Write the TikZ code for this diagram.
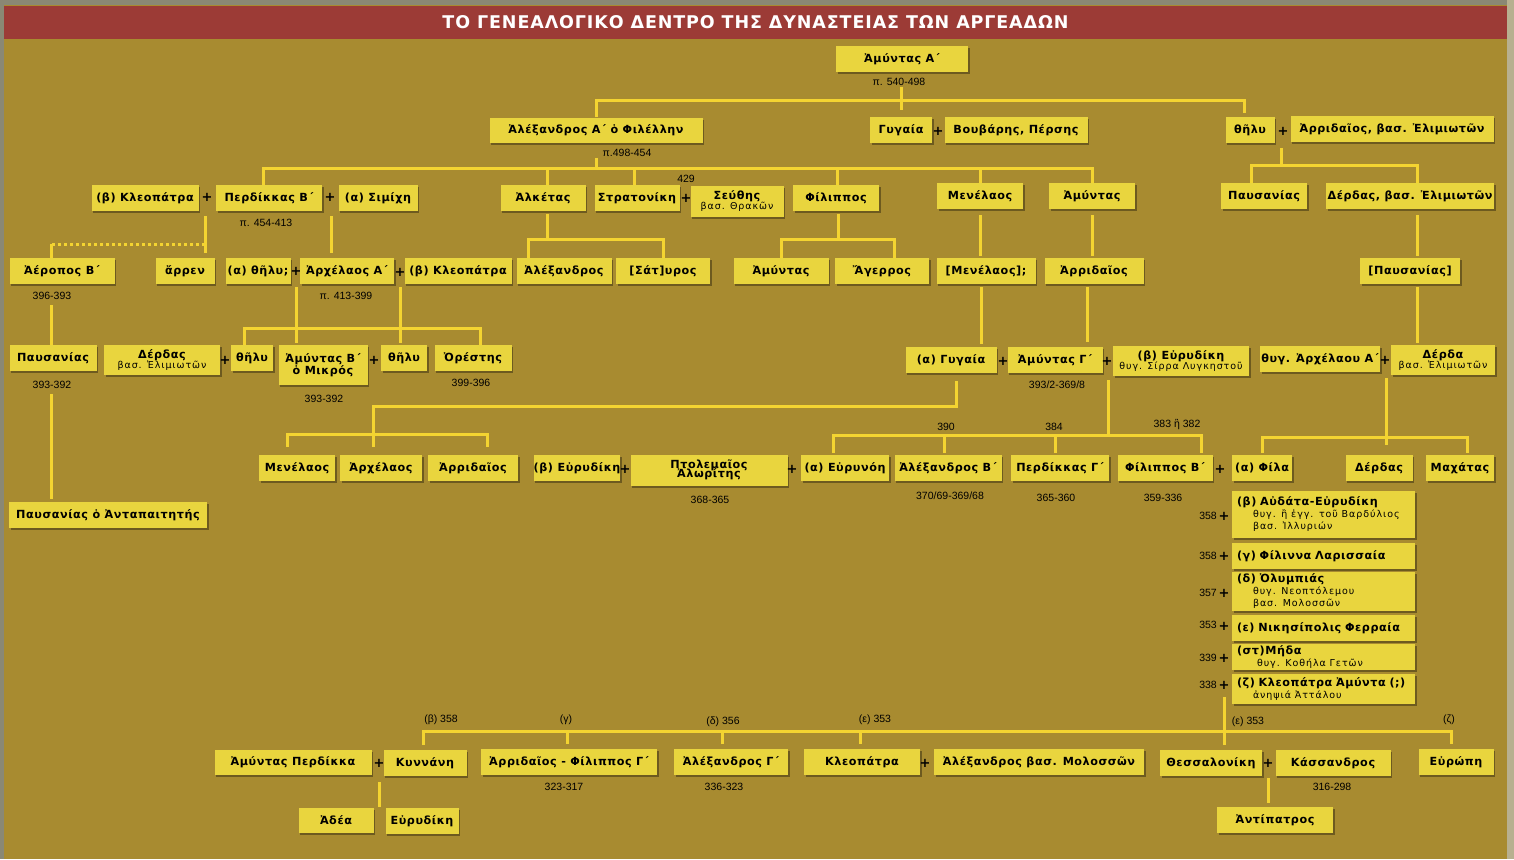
\documentclass[tikz,border=0pt]{standalone}
\usepackage{fontspec}
\setmainfont{DejaVu Sans}
\newfontfamily\bxfont[LetterSpace=5]{DejaVu Sans}
\newfontfamily\subfontfam[LetterSpace=10]{DejaVu Sans}
\newfontfamily\datefont{Liberation Sans}
\newcommand\subf{\subfontfam\mdseries\fontsize{9.5}{10.5}\selectfont}
\usetikzlibrary{shadows}
\pgfdeclarelayer{bg}
\pgfsetlayers{bg,main}
\definecolor{bgc}{HTML}{A88B30}
\definecolor{boxc}{HTML}{E9D53E}
\definecolor{linec}{HTML}{F4D431}
\definecolor{titc}{HTML}{9C3B36}
\definecolor{framec}{HTML}{8A8874}
\definecolor{rightc}{HTML}{B8B090}
\tikzset{
 bx/.style={fill=boxc, inner sep=0pt, align=center, text=black,
   font=\bxfont\bfseries\fontsize{11.2}{12}\selectfont,
   drop shadow={shadow xshift=1.5pt, shadow yshift=-2pt, opacity=0.35, fill=black}},
 wf/.style={bx, align=left, text width=173pt, inner xsep=5pt, inner ysep=1pt},
 pl/.style={font=\bxfont\bfseries\fontsize{13}{13}\selectfont, inner sep=0pt, text=black},
 dt/.style={font=\datefont\fontsize{10.5}{11}\selectfont, inner sep=1pt, text=black},
 ln/.style={draw=linec, line width=3pt},
 dln/.style={ln, dash pattern=on 3pt off 3pt},
}
\newcommand\nd[5]{\node[bx,minimum width=#3pt,minimum height=#4pt] (#1) at (#2) {#5};}
\begin{document}
\begin{tikzpicture}[x=1pt,y=-1pt]
\begin{pgfonlayer}{bg}
\fill[framec] (0,0) rectangle (1514,859);
\fill[bgc] (4,5) rectangle (1507,859);
\fill[rightc] (1507,0) rectangle (1514,859);
\end{pgfonlayer}
\node[fill=titc, minimum width=1503pt, minimum height=33pt, inner sep=0pt, text=white,
  font=\bxfont\bfseries\fontsize{17.5}{18}\selectfont] (ttl) at (755.5,22.5)
  {ΤΟ ΓΕΝΕΑΛΟΓΙΚΟ ΔΕΝΤΡΟ ΤΗΣ ΔΥΝΑΣΤΕΙΑΣ ΤΩΝ ΑΡΓΕΑΔΩΝ};
% row 0-1
\nd{amyA}{902,59}{132}{26}{Ἀμύντας Α΄}
\node[dt] (d540) at (899,82) {π. 540-498};
\nd{alexA}{596,130}{213}{25}{Ἀλέξανδρος Α΄ ὁ Φιλέλλην}
\node[dt] (d498) at (627,153) {π.498-454};
\nd{gyg1}{901,130}{62}{26}{Γυγαία}
\node[pl] (pGB) at (938,131) {+};
\nd{bouv}{1016,130}{143}{26}{Βουβάρης, Πέρσης}
\nd{thel1}{1250,130}{49}{26}{θῆλυ}
\node[pl] (pTA) at (1283,131) {+};
\nd{arrEl}{1392,129}{203}{26}{Ἀρριδαῖος, βασ. Ἐλιμιωτῶν}
% row 2
\nd{kleoB}{145,198}{107}{26}{(β) Κλεοπάτρα}
\node[pl] (pKP) at (207,197) {+};
\nd{perdB}{269,198}{106}{26}{Περδίκκας Β΄}
\node[dt] (d454) at (266,223) {π. 454-413};
\node[pl] (pPS) at (330,197) {+};
\nd{simi}{378,198}{79}{26}{(α) Σιμίχη}
\nd{alke}{543,198}{85}{26}{Ἀλκέτας}
\nd{stra}{637,198}{85}{26}{Στρατονίκη}
\node[pl] (pSS) at (686,198) {+};
\node[dt] (d429) at (686,179) {429};
\nd{seut}{737,201}{93}{31}{Σεύθης\\[-2pt]{\subf βασ. Θρακῶν}}
\nd{phil2}{836,198}{86}{26}{Φίλιππος}
\nd{men2}{980,196}{86}{26}{Μενέλαος}
\nd{amy2}{1092,196}{86}{26}{Ἀμύντας}
\nd{paus1}{1264,196}{86}{26}{Παυσανίας}
\nd{derd1}{1410,196}{168}{26}{Δέρδας, βασ. Ἐλιμιωτῶν}
% row 3
\nd{aero}{62,271}{105}{26}{Ἀέροπος Β΄}
\node[dt] (d396) at (52,296) {396-393};
\nd{arre}{185,271}{59}{26}{ἄρρεν}
\nd{thel3}{258,271}{65}{26}{(α) θῆλυ;}
\node[pl] (pTAr) at (296,271) {+};
\nd{arch}{347,271}{94}{26}{Ἀρχέλαος Α΄}
\node[dt] (d413) at (346,296) {π. 413-399};
\node[pl] (pAK) at (400,272) {+};
\nd{kleo3}{458,271}{107}{26}{(β) Κλεοπάτρα}
\nd{alex3}{564,271}{95}{26}{Ἀλέξανδρος}
\nd{saty}{663,271}{94}{26}{[Σάτ]υρος}
\nd{amy3}{781,271}{95}{26}{Ἀμύντας}
\nd{ager}{882,271}{94}{26}{Ἄγερρος}
\nd{men3}{986,271}{99}{26}{[Μενέλαος];}
\nd{arr3}{1094,271}{99}{26}{Ἀρριδαῖος}
\nd{paus3}{1410,271}{100}{26}{[Παυσανίας]}
% row 4
\nd{paus4}{53,358}{87}{26}{Παυσανίας}
\node[dt] (d393a) at (52,385) {393-392};
\nd{derd4}{162,360}{116}{30}{Δέρδας\\[-2pt]{\subf βασ. Ἐλιμιωτῶν}}
\node[pl] (pDT) at (225,360) {+};
\nd{thel4a}{252,358}{42}{26}{θῆλυ}
\nd{amyB}{323,365}{89}{40}{Ἀμύντας Β΄\\ὁ Μικρός}
\node[dt] (d393b) at (324,399) {393-392};
\node[pl] (pAT) at (374,360) {+};
\nd{thel4b}{404,358}{46}{26}{θῆλυ}
\nd{ores}{473,358}{77}{26}{Ὀρέστης}
\node[dt] (d399) at (471,383) {399-396};
\nd{gyg4}{951,360}{91}{26}{(α) Γυγαία}
\node[pl] (pGA) at (1003,361) {+};
\nd{amyG}{1055,360}{95}{26}{Ἀμύντας Γ΄}
\node[dt] (d3932) at (1057,385) {393/2-369/8};
\node[pl] (pAE) at (1107,361) {+};
\nd{eurB}{1181,361}{136}{30}{(β) Εὐρυδίκη\\[-2pt]{\subf θυγ. Σίρρα Λυγκηστοῦ}}
\nd{thyg}{1320,359}{120}{26}{θυγ. Ἀρχέλαου Α΄}
\node[pl] (pTD) at (1385,360) {+};
\nd{derda}{1443,360}{104}{30}{Δέρδα\\[-2pt]{\subf βασ. Ἐλιμιωτῶν}}
% row 5
\nd{men5}{297,468}{76}{26}{Μενέλαος}
\nd{arch5}{381,468}{82}{26}{Ἀρχέλαος}
\nd{arr5}{473,468}{90}{26}{Ἀρριδαῖος}
\nd{eur5}{577,468}{86}{26}{(β) Εὐρυδίκη}
\node[pl] (pEP) at (625,469) {+};
\nd{ptol}{709,470}{157}{31}{Πτολεμαῖος\\[-3pt]Ἀλωρίτης}
\node[dt] (d368) at (710,500) {368-365};
\node[pl] (pPE) at (792,469) {+};
\nd{eurn}{845,468}{88}{26}{(α) Εὐρυνόη}
\nd{alexB}{948,468}{107}{26}{Ἀλέξανδρος Β΄}
\node[dt] (d370) at (950,496) {370/69-369/68};
\nd{perdG}{1060,468}{98}{26}{Περδίκκας Γ΄}
\node[dt] (d365) at (1056,498) {365-360};
\nd{philB}{1165,468}{95}{26}{Φίλιππος Β΄}
\node[dt] (d359) at (1163,498) {359-336};
\node[pl] (pPP) at (1220,469) {+};
\nd{phila}{1262,468}{60}{26}{(α) Φίλα}
\nd{derd5}{1379,468}{67}{26}{Δέρδας}
\nd{mach}{1460,468}{68}{26}{Μαχάτας}
\node[dt] (d390) at (946,427) {390};
\node[dt] (d384) at (1054,427) {384};
\node[dt] (d383) at (1177,425) {383 ἢ 382};
% row 6
\nd{pausAnt}{108,515}{198}{26}{Παυσανίας ὁ Ἀνταπαιτητής}
% wives of Philippos B
\node[wf, minimum height=47pt] (aud) at (1323.5,514.5) {(β) Αὐδάτα-Εὐρυδίκη\\{\subf\hspace*{16pt}θυγ. ἢ ἐγγ. τοῦ Βαρδύλιος}\\{\subf\hspace*{16pt}βασ. Ἰλλυριών}};
\node[wf, minimum height=26pt] (phln) at (1323.5,556) {(γ) Φίλιννα Λαρισσαία};
\node[wf, minimum height=39pt] (olym) at (1323.5,591.5) {(δ) Ὀλυμπιάς\\{\subf\hspace*{16pt}θυγ. Νεοπτόλεμου}\\{\subf\hspace*{16pt}βασ. Μολοσσῶν}};
\node[wf, minimum height=26pt] (nike) at (1323.5,628) {(ε) Νικησίπολις Φερραία};
\node[wf, minimum height=26pt] (meda) at (1323.5,657) {(στ)Μήδα\\{\subf\hspace*{20pt}θυγ. Κοθήλα Γετῶν}};
\node[wf, minimum height=30pt] (kleoZ) at (1323.5,689) {(ζ) Κλεοπάτρα Ἀμύντα (;)\\{\subf\hspace*{16pt}ἀνηψιά Ἀττάλου}};
\node[dt, anchor=east] (n1) at (1218,516) {358};
\node[pl] (pW1) at (1224,516) {+};
\node[dt, anchor=east] (n2) at (1218,556) {358};
\node[pl] (pW2) at (1224,556) {+};
\node[dt, anchor=east] (n3) at (1218,593) {357};
\node[pl] (pW3) at (1224,593) {+};
\node[dt, anchor=east] (n4) at (1218,625) {353};
\node[pl] (pW4) at (1224,626) {+};
\node[dt, anchor=east] (n5) at (1218,658) {339};
\node[pl] (pW5) at (1224,658) {+};
\node[dt, anchor=east] (n6) at (1218,685) {338};
\node[pl] (pZ) at (1224,685) {+};
% bottom labels
\node[dt] (lb1) at (441,720) {(β) 358};
\node[dt] (lb2) at (566,720) {(γ)};
\node[dt] (lb3) at (723,722) {(δ) 356};
\node[dt] (lb4) at (875,720) {(ε) 353};
\node[dt] (lb5) at (1248,722) {(ε) 353};
\node[dt] (lb6) at (1449,720) {(ζ)};
% row 7
\nd{amyP}{293,762}{157}{25}{Ἀμύντας Περδίκκα}
\node[pl] (pAK7) at (379,763) {+};
\nd{kynn}{425,763}{83}{26}{Κυννάνη}
\nd{arrP}{569,762}{176}{26}{Ἀρριδαῖος - Φίλιππος Γ΄}
\node[dt] (d323) at (564,787) {323-317};
\nd{alexG}{731,762}{114}{26}{Ἀλέξανδρος Γ΄}
\node[dt] (d336) at (724,787) {336-323};
\nd{kleo7}{862,762}{116}{26}{Κλεοπάτρα}
\node[pl] (pKA) at (925,763) {+};
\nd{alexM}{1039,762}{210}{26}{Ἀλέξανδρος βασ. Μολοσσῶν}
\nd{thes}{1211,763}{102}{26}{Θεσσαλονίκη}
\node[pl] (pTK) at (1268,763) {+};
\nd{kass}{1333,763}{115}{26}{Κάσσανδρος}
\node[dt] (d316) at (1332,787) {316-298};
\nd{euro}{1456,762}{75}{26}{Εὐρώπη}
% row 8
\nd{adea}{336,820}{75}{25}{Ἀδέα}
\nd{eur8}{422,821}{73}{26}{Εὐρυδίκη}
\nd{anti}{1275,820}{116}{26}{Ἀντίπατρος}
% connectors
\begin{pgfonlayer}{bg}
\coordinate (J0) at (901,100);
\draw[ln, shorten >=7pt] (gyg1.north |- d540.south) -- (gyg1.north);
\draw[ln] (alexA.north) |- (J0);
\draw[ln, shorten <=4pt] ([xshift=-6pt]thel1.north) |- (J0);
\coordinate (J1) at (596,168);
\draw[ln] (alexA.south |- d498.south) -- (J1);
\draw[ln] ([xshift=-6pt]perdB.north) |- (J1);
\draw[ln] ([xshift=4pt]alke.north) |- (J1);
\draw[ln] ([xshift=-3pt]stra.north) |- (J1);
\draw[ln] ([xshift=1pt]phil2.north) |- (J1);
\draw[ln] (men2.north) |- (J1);
\draw[ln] (amy2.north) |- (J1);
\coordinate (J2) at (1281,165);
\draw[ln] (pTA) ++(-2,17) -- (J2);
\draw[ln] ([xshift=-13pt]paus1.north) |- (J2);
\draw[ln] ([xshift=7pt]derd1.north) |- (J2);
\coordinate (J3) at (205,244);
\coordinate (aeroT) at ([xshift=-11pt]aero.north);
\draw[ln] (pKP) ++(-2,19) -- ++(0,37);
\draw[dln] (J3) -- (J3 -| aeroT);
\draw[ln] (aeroT) -- (aeroT |- J3);
\draw[ln] (pPS) ++(1,19) -- ++(0,37);
\coordinate (J4) at (547,239);
\draw[ln, shorten <=3pt] ([xshift=4pt]alke.south) -- (J4);
\draw[ln] ([xshift=-36pt]alex3.north) |- (J4);
\draw[ln] (saty.north) |- (J4);
\coordinate (J5) at (838,239);
\draw[ln, shorten <=3pt] ([xshift=2pt]phil2.south) -- (J5);
\draw[ln] (amy3.north) |- (J5);
\draw[ln] ([xshift=12pt]ager.north) |- (J5);
\draw[ln, shorten <=6pt, shorten >=2pt] (men2.south) -- (men2.south |- men3.north);
\draw[ln, shorten <=6pt, shorten >=2pt] (amy2.south) -- (amy2.south |- arr3.north);
\coordinate (d1b) at ([xshift=7pt]derd1.south);
\draw[ln, shorten <=6pt, shorten >=2pt] (d1b) -- (d1b |- paus3.north);
\coordinate (p4t) at ([xshift=-2pt]paus4.north);
\draw[ln, shorten >=4pt] (p4t) -- (p4t |- d396.south);
\draw[ln] (pTAr) ++(0,16) -- ++(0,56);
\draw[ln] (pAK) ++(0,15) -- ++(0,56);
\coordinate (J6) at (296,328);
\draw[ln] ([xshift=-8pt]thel4a.north) |- (J6);
\draw[ln] ([xshift=7pt]ores.north) |- (J6);
\coordinate (m3b) at ([xshift=-5pt]men3.south);
\draw[ln, shorten <=3pt, shorten >=3pt] (m3b) -- (m3b |- gyg4.north);
\coordinate (a3b) at ([xshift=-7pt]arr3.south);
\draw[ln, shorten <=3pt, shorten >=5pt] (a3b) -- (a3b |- amyG.north);
\coordinate (p3b) at ([xshift=7pt]paus3.south);
\draw[ln, shorten <=3pt, shorten >=2pt] (p3b) -- (p3b |- derda.north);
\draw[ln, shorten <=4pt, shorten >=3pt] (p4t |- d393a.south) -- (p4t |- pausAnt.north);
\coordinate (g4b) at ([xshift=5pt]gyg4.south);
\coordinate (J7) at (373,406);
\coordinate (J8) at (373,434);
\draw[ln, shorten <=8pt, shorten >=8pt] (g4b) |- (J7) -- (J7 |- arch5.north);
\draw[ln, shorten <=8pt] ([xshift=-10pt]men5.north) |- (J8);
\draw[ln, shorten <=8pt] ([xshift=14pt]arr5.north) |- (J8);
\coordinate (J9) at (1108,435);
\draw[ln] (pAE) ++(1,19) -- (J9);
\draw[ln, shorten <=2pt] ([xshift=-12pt]eurn.north) |- (J9);
\draw[ln, shorten <=2pt] ([xshift=-4pt]alexB.north) |- (J9);
\draw[ln, shorten <=2pt] ([xshift=-5pt]perdG.north) |- (J9);
\draw[ln, shorten <=2pt] ([xshift=36pt]philB.north) |- (J9);
\coordinate (J10) at (1386,437);
\draw[ln] (pTD) ++(1,18) -- ++(0,67);
\draw[ln, shorten <=2pt] (phila.north) |- (J10);
\draw[ln, shorten <=2pt] ([xshift=7pt]mach.north) |- (J10);
\coordinate (J11) at (1224,731);
\draw[ln] (pZ) ++(0,12) -- ++(0,48);
\draw[ln, shorten <=5pt] ([xshift=-2pt]kynn.north) |- (J11);
\draw[ln, shorten <=5pt] ([xshift=-2pt]arrP.north) |- (J11);
\draw[ln, shorten <=5pt] ([xshift=-9pt]alexG.north) |- (J11);
\draw[ln, shorten <=5pt] ([xshift=-2pt]kleo7.north) |- (J11);
\draw[ln, shorten <=5pt] ([xshift=-5pt]euro.north) |- (J11);
\draw[ln] (pAK7) ++(0,19) -- ++(0,25);
\draw[ln] (pTK) ++(0,15) -- ++(0,25);
\end{pgfonlayer}
\end{tikzpicture}
\end{document}
